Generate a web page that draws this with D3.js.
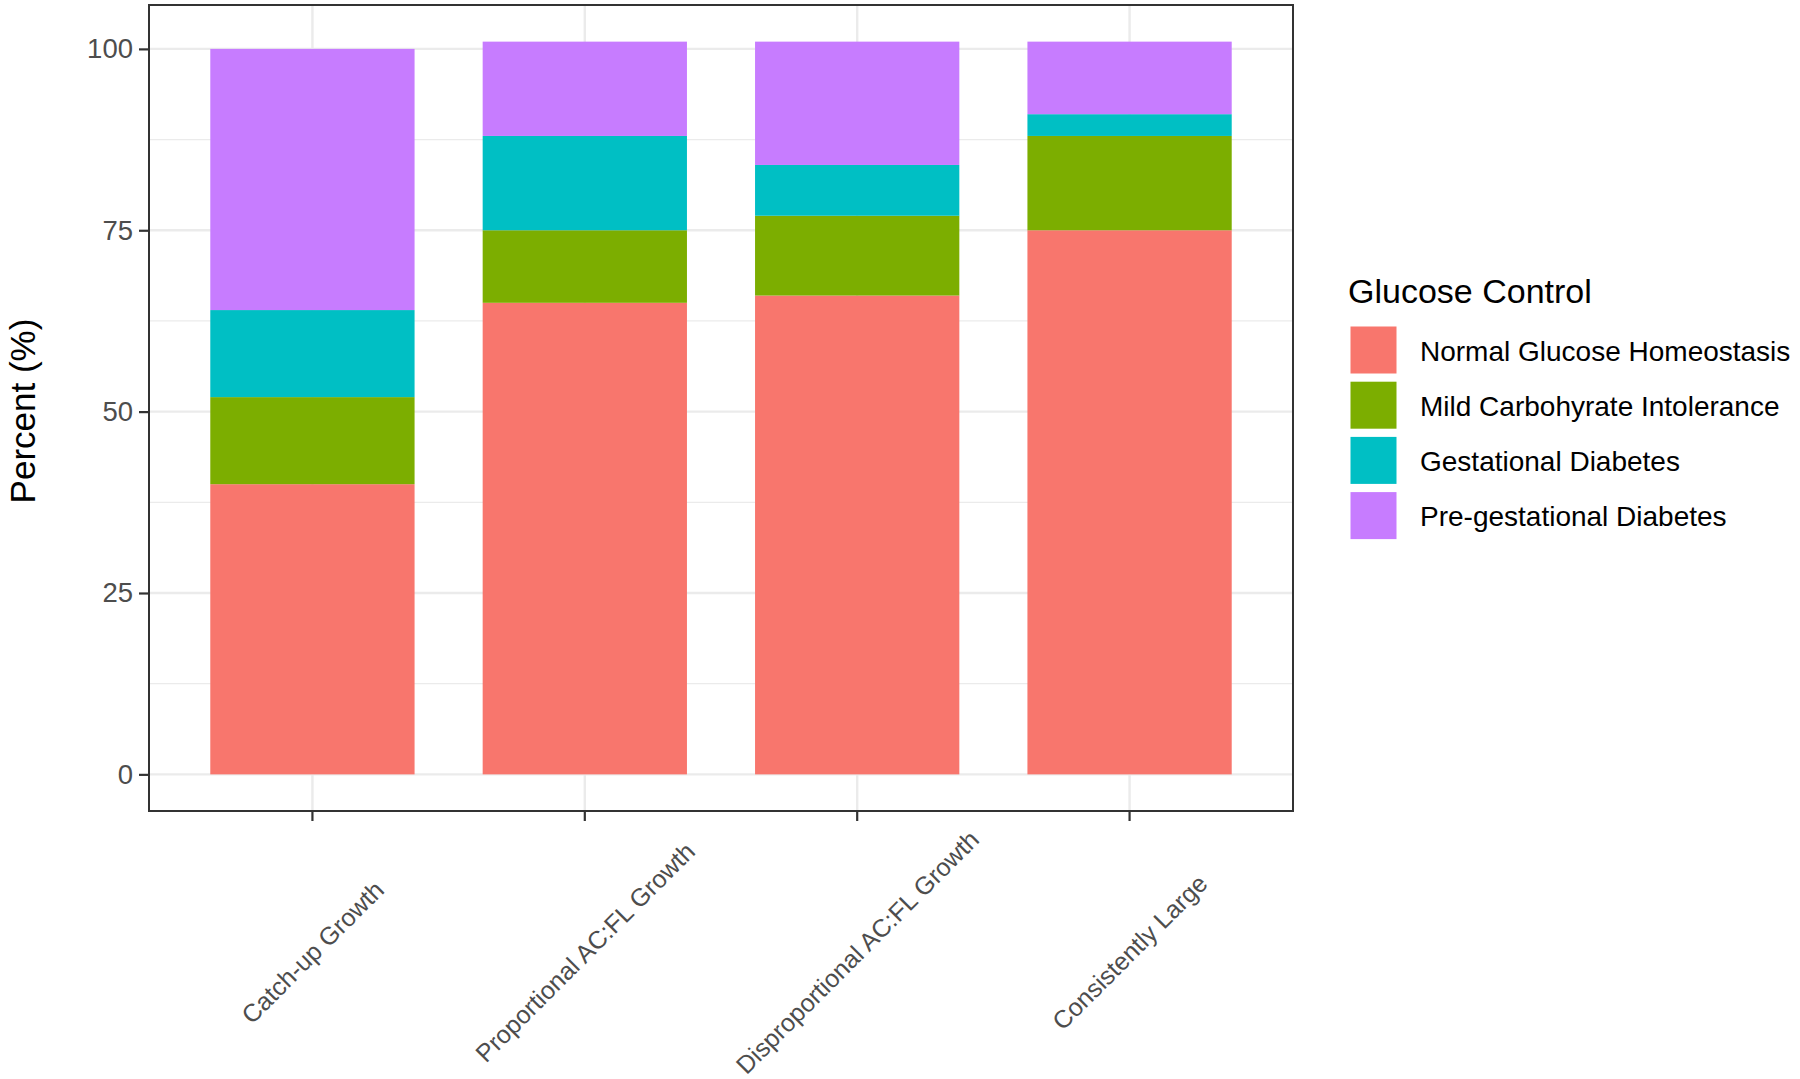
<!DOCTYPE html>
<html>
<head>
<meta charset="utf-8">
<script src="https://cdn.jsdelivr.net/npm/d3@7"></script>
<style>
  body { margin: 0; background: #fff; }
  svg { display: block; font-family: "Liberation Sans", Arial, sans-serif; }
</style>
</head>
<body>
<div id="chart"></div>
<script>
const categories = ["Catch-up Growth", "Proportional AC:FL Growth", "Disproportional AC:FL Growth", "Consistently Large"];
const groups = ["Normal Glucose Homeostasis", "Mild Carbohyrate Intolerance", "Gestational Diabetes", "Pre-gestational Diabetes"];
const normal = [40, 65, 66, 75];
const mild = [12, 10, 11, 13];
const gestational = [12, 13, 7, 3];
const pregestational = [36, 13, 17, 10];
const yTicks = [0, 25, 50, 75, 100];
const colors = ["#F8766D", "#7CAE00", "#00BFC4", "#C77CFF"];

const width = 1800, height = 1079;
const panel = { left: 149, right: 1293, top: 5, bottom: 811 };

const rows = categories.map((c, i) => ({
  cat: c,
  [groups[0]]: normal[i],
  [groups[1]]: mild[i],
  [groups[2]]: gestational[i],
  [groups[3]]: pregestational[i]
}));
const stacked = d3.stack().keys(groups)(rows);
const maxTotal = d3.max(stacked[stacked.length - 1], d => d[1]);

const svg = d3.select("#chart").append("svg")
  .attr("width", width)
  .attr("height", height);

// x: discrete positions 1..n with 0.6 expansion each side
const xLin = d3.scaleLinear()
  .domain([0.4, categories.length + 0.6])
  .range([panel.left, panel.right]);
const x = c => xLin(categories.indexOf(c) + 1);
const barWidth = 0.75 * (xLin(2) - xLin(1));

const pad = maxTotal * 0.05;
const y = d3.scaleLinear()
  .domain([0 - pad, maxTotal + pad])
  .range([panel.bottom, panel.top]);

// grid
const grid = svg.append("g");
[12.5, 37.5, 62.5, 87.5].forEach(v => {
  grid.append("line")
    .attr("x1", panel.left).attr("x2", panel.right)
    .attr("y1", y(v)).attr("y2", y(v))
    .attr("stroke", "#EBEBEB").attr("stroke-width", 1.2);
});
yTicks.forEach(v => {
  grid.append("line")
    .attr("x1", panel.left).attr("x2", panel.right)
    .attr("y1", y(v)).attr("y2", y(v))
    .attr("stroke", "#EBEBEB").attr("stroke-width", 2.4);
});
categories.forEach(c => {
  grid.append("line")
    .attr("x1", x(c)).attr("x2", x(c))
    .attr("y1", panel.top).attr("y2", panel.bottom)
    .attr("stroke", "#EBEBEB").attr("stroke-width", 2.4);
});

// bars
svg.append("g").selectAll("g")
  .data(stacked)
  .enter().append("g")
  .attr("fill", (d, i) => colors[i])
  .selectAll("rect")
  .data(d => d)
  .enter().append("rect")
  .attr("x", d => x(d.data.cat) - barWidth / 2)
  .attr("width", barWidth)
  .attr("y", d => y(d[1]))
  .attr("height", d => y(d[0]) - y(d[1]));

// panel border
svg.append("rect")
  .attr("x", panel.left).attr("y", panel.top)
  .attr("width", panel.right - panel.left)
  .attr("height", panel.bottom - panel.top)
  .attr("fill", "none")
  .attr("stroke", "#333333")
  .attr("stroke-width", 2);

// y axis
const yAxis = svg.append("g")
  .attr("transform", `translate(${panel.left},0)`)
  .call(d3.axisLeft(y).tickValues(yTicks).tickSize(10).tickPadding(6));
yAxis.select(".domain").remove();
yAxis.selectAll(".tick line").attr("stroke", "#333333").attr("stroke-width", 2.2);
yAxis.selectAll(".tick text")
  .attr("fill", "#4D4D4D")
  .style("font-size", "27.5px")
  .style("font-family", "Liberation Sans, Arial, sans-serif");

// x axis
const xAxis = svg.append("g")
  .attr("transform", `translate(0,${panel.bottom})`);
categories.forEach(c => {
  xAxis.append("line")
    .attr("x1", x(c)).attr("x2", x(c))
    .attr("y1", 0).attr("y2", 10)
    .attr("stroke", "#333333").attr("stroke-width", 2.2);
  xAxis.append("text")
    .attr("transform", `translate(${x(c)},${952 - panel.bottom}) rotate(-45)`)
    .attr("text-anchor", "middle")
    .attr("dominant-baseline", "central")
    .attr("fill", "#4D4D4D")
    .style("font-size", "25px")
    .text(c);
});

// y title
svg.append("text")
  .attr("transform", `translate(35,${(panel.top + panel.bottom) / 2 + 3}) rotate(-90)`)
  .attr("text-anchor", "middle")
  .attr("fill", "#000")
  .style("font-size", "35px")
  .text("Percent (%)");

// legend
const legend = svg.append("g").attr("transform", "translate(1348,0)");
legend.append("text")
  .attr("x", 0).attr("y", 303)
  .attr("fill", "#000")
  .style("font-size", "34px")
  .text("Glucose Control");
groups.forEach((g, i) => {
  const cy = 350 + i * 55.2;
  legend.append("rect")
    .attr("x", 2.5).attr("y", cy - 23.5)
    .attr("width", 46).attr("height", 47)
    .attr("fill", colors[i]);
  legend.append("text")
    .attr("x", 72).attr("y", cy + 1)
    .attr("dominant-baseline", "central")
    .attr("fill", "#000")
    .style("font-size", "28px")
    .text(g);
});
</script>
</body>
</html>
